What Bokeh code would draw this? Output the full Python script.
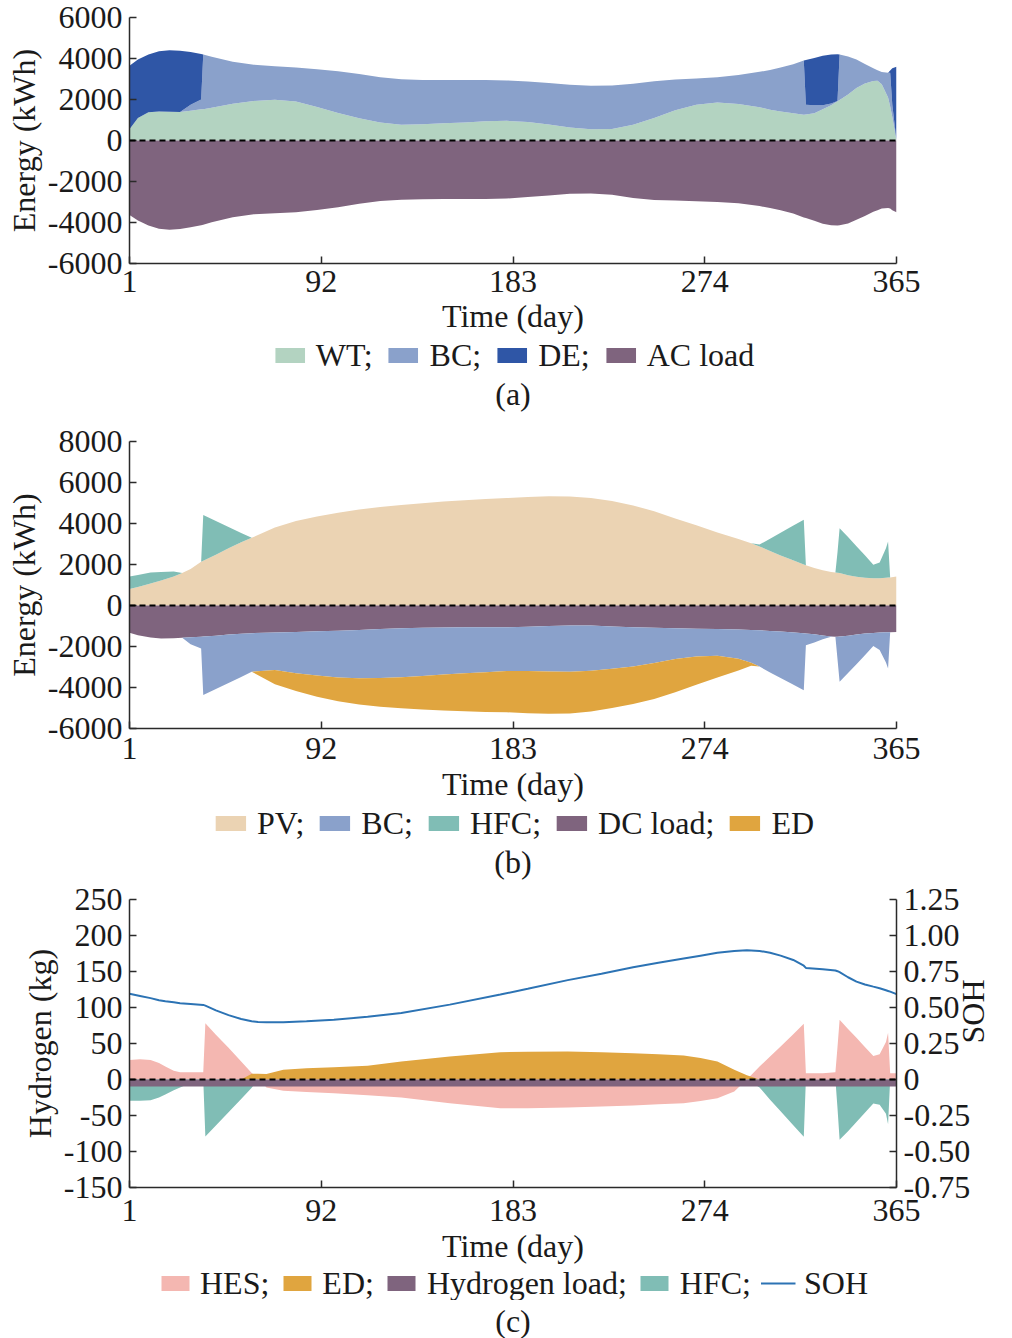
import math
from bokeh.plotting import figure
from bokeh.layouts import column
from bokeh.models import (ColumnDataSource, Range1d, LinearAxis, FixedTicker, Span,
                          Legend, LegendItem, Title)
from bokeh.embed import file_html
from bokeh.resources import INLINE

# ---- panel (a): AC bus energy (kWh) ----
days_a = [1, 5, 10, 15, 20, 25, 30, 35, 36, 40, 50, 60, 70, 80, 90, 100, 110, 120, 130, 140,
          150, 160, 170, 180, 190, 200, 210, 220, 230, 240, 250, 260, 270, 280, 290, 300,
          305, 310, 316, 321, 322, 326, 330, 334, 337, 338, 342, 346, 350, 354, 356, 358,
          361, 362, 363, 365]
wt_a = [550, 1100, 1380, 1420, 1400, 1390, 1450, 1520, 1530, 1600, 1790, 1930, 1990, 1900,
        1640, 1340, 1080, 880, 770, 790, 840, 880, 940, 960, 900, 780, 640, 550, 560, 770,
        1100, 1470, 1750, 1850, 1780, 1620, 1500, 1420, 1330, 1260, 1265, 1330, 1520, 1720,
        1910, 1980, 2250, 2560, 2780, 2900, 2920, 2750, 2100, 1660, 1150, 0]
bc_a = [0, 0, 0, 0, 0, 0, 300, 480, 2670, 2480, 2050, 1770, 1630, 1660, 1840, 2040, 2160,
        2200, 2220, 2165, 2110, 2070, 2010, 1970, 1980, 2020, 2080, 2120, 2120, 2000, 1790,
        1500, 1280, 1230, 1420, 1730, 1936, 2140, 2390, 2640, 477, 390, 200, 80, 20, 2220,
        1850, 1390, 950, 620, 510, 590, 1210, 1650, 600, 0]
de_a = [3100, 2850, 2820, 2930, 3000, 2990, 2570, 2220, 0, 0, 0, 0, 0, 0, 0, 0, 0, 0, 0, 0,
        0, 0, 0, 0, 0, 0, 0, 0, 0, 0, 0, 0, 0, 0, 0, 0, 0, 0, 0, 0, 2183, 2310, 2410, 2390,
        2280, 0, 0, 0, 0, 0, 0, 0, 0, 110, 1770, 3600]
ac_load_a = [-3630, -3900, -4150, -4300, -4350, -4320, -4230, -4130, -4110, -3990, -3740,
             -3600, -3550, -3500, -3390, -3250, -3080, -2950, -2890, -2860, -2850, -2850,
             -2850, -2830, -2760, -2680, -2600, -2580, -2650, -2800, -2900, -2930, -2960,
             -3000, -3060, -3200, -3290, -3400, -3560, -3750, -3780, -3920, -4060, -4140,
             -4150, -4140, -4050, -3860, -3680, -3480, -3400, -3320, -3290, -3320, -3400,
             -3500]

# ---- panel (b): DC bus energy (kWh) ----
days_b = [1, 5, 11, 16, 22, 26, 30, 35, 36, 42, 48, 54, 59, 70, 80, 90, 100, 110, 120, 130,
          140, 150, 160, 170, 180, 190, 200, 210, 220, 230, 240, 250, 260, 270, 280, 290,
          296, 300, 305, 310, 315, 321, 322, 326, 330, 334, 336, 337, 338, 342, 346, 350,
          354, 357, 360, 361, 362, 365]
pv_b = [800, 900, 1070, 1220, 1420, 1580, 1780, 2130, 2180, 2480, 2790, 3080, 3300, 3800,
        4120, 4340, 4520, 4680, 4800, 4900, 4990, 5070, 5140, 5200, 5240, 5290, 5330, 5320,
        5250, 5100, 4880, 4600, 4250, 3910, 3560, 3250, 3040, 2880, 2660, 2440, 2240, 2000,
        1960, 1830, 1720, 1640, 1610, 1600, 1580, 1480, 1400, 1350, 1330, 1330, 1350, 1360,
        1370, 1420]
hfc_b = [620, 590, 540, 420, 240, 0, 0, 0, 2230, 1640, 1040, 455, 0, 0, 0, 0, 0, 0, 0, 0,
         0, 0, 0, 0, 0, 0, 0, 0, 0, 0, 0, 0, 0, 0, 0, 0, 0, 90, 600, 1110, 1600, 2185, 0, 0,
         0, 0, 0, 1000, 2185, 1860, 1490, 1107, 658, 770, 1446, 1760, 0, 0]
dc_load_b = [-1325, -1450, -1560, -1610, -1600, -1570, -1545, -1520, -1515, -1470, -1420,
             -1380, -1350, -1320, -1290, -1260, -1230, -1190, -1150, -1110, -1080, -1070,
             -1066, -1066, -1066, -1040, -1000, -970, -980, -1020, -1060, -1090, -1110,
             -1130, -1150, -1170, -1190, -1210, -1240, -1270, -1310, -1350, -1360, -1400,
             -1460, -1510, -1520, -1520, -1510, -1470, -1420, -1370, -1340, -1320, -1310,
             -1300, -1300, -1290]
bc_b = [0, 0, 0, 0, 0, 0, -346, -581, -2848, -2600, -2358, -2105, -1882, -1830, -2020,
        -2160, -2285, -2360, -2390, -2395, -2360, -2300, -2234, -2184, -2124, -2160, -2225,
        -2260, -2200, -2070, -1914, -1710, -1500, -1360, -1307, -1430, -1600, -1770, -2023,
        -2266, -2500, -2785, -579, -410, -188, -20, 0, -1100, -2207, -1827, -1440, -1054,
        -631, -846, -1470, -1771, 0, 0]
ed_b = [0, 0, 0, 0, 0, 0, 0, 0, 0, 0, 0, 0, 0, -690, -860, -1030, -1155, -1280, -1400,
        -1505, -1630, -1750, -1860, -1940, -2020, -2050, -2055, -2040, -1990, -1910, -1826,
        -1760, -1620, -1380, -1050, -570, -150, 0, 0, 0, 0, 0, 0, 0, 0, 0, 0, 0, 0, 0, 0, 0,
        0, 0, 0, 0, 0, 0]

# ---- panel (c): hydrogen (kg) and SOH ----
days_c = [1, 6, 11, 15, 18, 22, 25, 30, 36, 37, 42, 48, 54, 59, 62, 66, 74, 85, 98, 114,
          130, 153, 177, 190, 209, 225, 240, 252, 264, 272, 280, 288, 294, 300, 305, 310,
          316, 321, 322, 330, 336, 337, 338, 342, 346, 350, 354, 357, 360, 361, 362, 365]
hes_c = [27, 28, 27, 23, 18, 12, 10, 10, 10, 78, 62, 44, 25, 9, 2, -11, -15.7, -17.5, -19,
         -22, -25, -32.9, -39.8, -40, -39, -37.5, -36, -34.5, -32.9, -30, -26, -16.7, 0, 18,
         32, 46, 63, 77.4, 8.8, 8.8, 10, 45, 82.9, 70, 58, 45, 32.6, 35, 52, 65, 8.8, 8.8]
ed_c = [0, 0, 0, 0, 0, 0, 0, 0, 0, 0, 0, 0, 0, 8, 8, 7.5, 13.4, 15.5, 17.1, 19, 25, 32, 38,
        38.5, 38.9, 38, 36.6, 35, 33.3, 30, 25, 13.4, 6, 0, 0, 0, 0, 0, 0, 0, 0, 0, 0, 0, 0,
        0, 0, 0, 0, 0, 0, 0]
hfc_c = [-29.6, -29.5, -28.7, -25, -21, -15, -11, -5, 0, -79.2, -63.8, -45.4, -27, -11.6,
         0, 0, 0, 0, 0, 0, 0, 0, 0, 0, 0, 0, 0, 0, 0, 0, 0, 0, 0, -11, -28, -44.2, -63.5,
         -79.6, 0, 0, 0, -40, -83.8, -72, -59, -46.3, -33.5, -35, -47.5, -62, 0, 0]
soh_c = [0.595, 0.58, 0.565, 0.55, 0.543, 0.536, 0.53, 0.525, 0.518, 0.513, 0.48, 0.447,
         0.42, 0.405, 0.4, 0.398, 0.398, 0.405, 0.415, 0.435, 0.462, 0.52, 0.59, 0.63, 0.69,
         0.735, 0.78, 0.81, 0.84, 0.86, 0.88, 0.893, 0.897, 0.893, 0.88, 0.86, 0.83, 0.79,
         0.775, 0.765, 0.757, 0.752, 0.745, 0.71, 0.68, 0.66, 0.645, 0.634, 0.62, 0.615,
         0.61, 0.593]
days_hload = [1, 365]
hload_c = [-9.7, -9.7]

x_ticks = [1, 92, 183, 274, 365]
ya_ticks = [-6000, -4000, -2000, 0, 2000, 4000, 6000]
yb_ticks = [-6000, -4000, -2000, 0, 2000, 4000, 6000, 8000]
yc_ticks = [-150, -100, -50, 0, 50, 100, 150, 200, 250]
soh_ticks = [-0.75, -0.5, -0.25, 0, 0.25, 0.5, 0.75, 1.0, 1.25]
soh_labels = ["-0.75", "-0.50", "-0.25", "0", "0.25", "0.50", "0.75", "1.00", "1.25"]

C_WT = "#b3d3c1"
C_BC = "#8aa1cb"
C_DE = "#2f56a6"
C_LOAD = "#7f647e"
C_PV = "#ebd3b3"
C_HFC = "#80bdb5"
C_ED = "#e0a53f"
C_HES = "#f4b7b1"
C_SOH = "#2c73b4"

FONT = "Liberation Serif"
FS = "32px"
INK = "#1a1a1a"
W = 1012


def style_axis(ax, ticks, labels=None):
    ax.ticker = FixedTicker(ticks=ticks)
    if labels is None:
        labels = [str(t) for t in ticks]
    ax.major_label_overrides = dict(zip(ticks, labels))
    ax.axis_line_color = "#2a2a2a"
    ax.axis_line_width = 1.5
    ax.major_tick_line_color = "#2a2a2a"
    ax.major_tick_line_width = 1.5
    ax.major_tick_in = 7
    ax.major_tick_out = 0
    ax.minor_tick_line_color = None
    ax.major_label_text_font = FONT
    ax.major_label_text_font_size = FS
    ax.major_label_text_color = INK
    ax.axis_label_text_font = FONT
    ax.axis_label_text_font_size = FS
    ax.axis_label_text_font_style = "normal"
    ax.axis_label_text_color = INK


def make_fig(height, top, bottom, yr, yticks, ylabel, s1, s2):
    p = figure(width=W, height=height, x_range=Range1d(1, 365), y_range=Range1d(*yr),
               output_backend="svg", toolbar_location=None,
               min_border_left=129, min_border_right=116,
               min_border_top=top, min_border_bottom=bottom)
    p.grid.visible = False
    p.outline_line_color = None
    p.xaxis.axis_label = "Time (day)"
    p.yaxis.axis_label = ylabel
    style_axis(p.xaxis[0], x_ticks)
    style_axis(p.yaxis[0], yticks)
    p.xaxis.major_label_standoff = s1
    p.xaxis.axis_label_standoff = s2
    p.yaxis.major_label_standoff = 7
    p.yaxis.axis_label_standoff = 3
    p.add_layout(Span(location=0, dimension="width", line_color="black",
                      line_width=2, line_dash="6 4"))
    return p


def key_fig(height, frame_h, entries, glyph_w, spacing, caption, s3):
    # strip under each chart: legend row plus the (a)/(b)/(c) caption
    k = figure(width=W, height=height, x_range=Range1d(0, 1), y_range=Range1d(0, 1),
               x_axis_type=None, y_axis_type=None, output_backend="svg",
               toolbar_location=None, min_border_left=129, min_border_right=116,
               min_border_top=0, min_border_bottom=height - frame_h)
    k.outline_line_color = None
    items = []
    for label, color, kind in entries:
        # swatch-only renderers (a single NaN point draws nothing in the frame)
        if kind == "line":
            r = k.line(x=[math.nan], y=[math.nan], color=color, line_width=2)
        else:
            r = k.varea(x=[math.nan], y1=[math.nan], y2=[math.nan], color=color)
        items.append(LegendItem(label=label, renderers=[r]))
    leg = Legend(items=items, orientation="horizontal", location="center",
                 glyph_width=glyph_w, glyph_height=19, label_standoff=8, spacing=spacing,
                 padding=0, margin=0, border_line_color=None, background_fill_alpha=0,
                 label_text_font=FONT, label_text_font_size=FS, label_text_color=INK)
    k.add_layout(leg)
    k.add_layout(Title(text=caption, align="center", text_font=FONT, text_font_size=FS,
                       text_font_style="normal", text_color=INK, standoff=s3), "below")
    return k


# panel (a)
src_a = ColumnDataSource(dict(day=days_a, WT=wt_a, BC=bc_a, DE=de_a, AC=ac_load_a))
pa = make_fig(336, 17, 71, (-6000, 6000), ya_ticks, "Energy (kWh)", 7, 3)
pa.varea_stack(["WT", "BC", "DE"], x="day", source=src_a, color=[C_WT, C_BC, C_DE])
pa.varea(x="day", y1=0, y2="AC", source=src_a, color=C_LOAD)
ka = key_fig(84, 37, [("WT;", C_WT, "area"), ("BC;", C_BC, "area"), ("DE;", C_DE, "area"),
                      ("AC load", C_LOAD, "area")], 37, 12, "(a)", 0)

# panel (b)
src_b = ColumnDataSource(dict(day=days_b, PV=pv_b, HFC=hfc_b, DC=dc_load_b, BC=bc_b, ED=ed_b))
pb = make_fig(384, 21, 75, (-6000, 8000), yb_ticks, "Energy (kWh)", 9, 4)
pb.varea_stack(["PV", "HFC"], x="day", source=src_b, color=[C_PV, C_HFC])
pb.varea_stack(["DC", "BC", "ED"], x="day", source=src_b, color=[C_LOAD, C_BC, C_ED])
kb = key_fig(78, 37, [("PV;", C_PV, "area"), ("BC;", C_BC, "area"), ("HFC;", C_HFC, "area"),
                      ("DC load;", C_LOAD, "area"), ("ED", C_ED, "area")], 38, 11, "(b)", 0)

# panel (c)
src_c = ColumnDataSource(dict(day=days_c, HES=hes_c, ED=ed_c, HFC=hfc_c, SOH=soh_c))
pc = make_fig(384, 17, 78, (-150, 250), yc_ticks, "Hydrogen (kg)", 12, 4)
pc.extra_y_ranges = {"soh": Range1d(-0.75, 1.25)}
pc.varea(x="day", y1=0, y2="HES", source=src_c, color=C_HES)
pc.varea(x="day", y1=0, y2="ED", source=src_c, color=C_ED)
pc.varea(x="day", y1=0, y2="HFC", source=src_c, color=C_HFC)
pc.varea(x=days_hload, y1=0, y2=hload_c, color=C_LOAD)
pc.line(x="day", y="SOH", source=src_c, y_range_name="soh", color=C_SOH, line_width=2)
ax_r = LinearAxis(y_range_name="soh", axis_label="SOH")
style_axis(ax_r, soh_ticks, soh_labels)
ax_r.major_label_standoff = 7
ax_r.axis_label_standoff = 0
ax_r.axis_label_orientation = math.pi / 2
pc.add_layout(ax_r, "right")
kc = key_fig(72, 37, [("HES;", C_HES, "area"), ("ED;", C_ED, "area"),
                      ("Hydrogen load;", C_LOAD, "area"), ("HFC;", C_HFC, "area"),
                      ("SOH", C_SOH, "line")], 35, 10, "(c)", 0)

layout = column(pa, ka, pb, kb, pc, kc)
open("out.html", "w").write(file_html(layout, INLINE))
